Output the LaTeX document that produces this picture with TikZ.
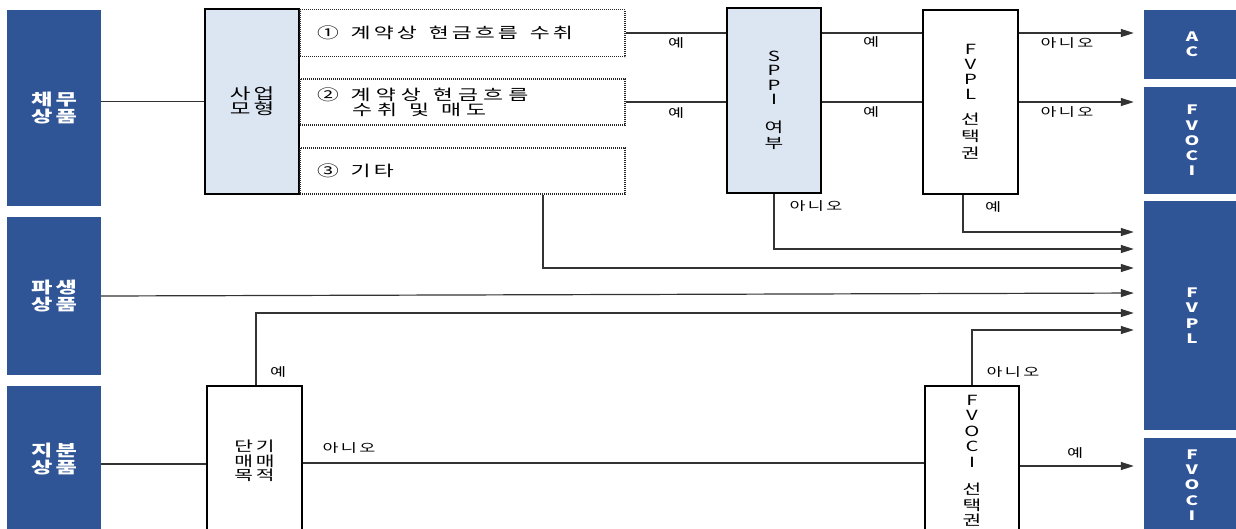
\documentclass[tikz,border=0pt]{standalone}
\usepackage{fontspec}
\setmainfont{Noto Sans CJK KR}[FakeStretch=1.45,LetterSpace=20]
\newcommand{\gap}{\hspace{7pt}}
\usetikzlibrary{arrows.meta,positioning}
\definecolor{ifrsblue}{HTML}{2F5597}
\definecolor{ifrspale}{HTML}{DCE6F2}
\definecolor{flowgray}{HTML}{333333}
\tikzset{
    every node/.style={inner sep=0pt},
    wh/.style 2 args={minimum width=#1pt,minimum height=#2pt},
    catbox/.style={rectangle,fill=ifrsblue,text=white,align=center,font=\fontsize{16}{17}\selectfont\bfseries},
    resbox/.style={rectangle,fill=ifrsblue,text=white,align=center,font=\fontsize{13}{15.3}\selectfont\bfseries},
    modelbox/.style={rectangle,draw=black,line width=1.8pt,fill=ifrspale,align=center},
    testbox/.style={rectangle,draw=black,line width=1.8pt,fill=white,align=center},
    dotbox/.style={rectangle,draw=black!85,line width=1.1pt,dash pattern=on 1pt off 1pt,inner xsep=17pt,text width=291pt,align=left,font=\fontsize{15}{15}\selectfont},
    yn/.style={font=\fontsize{12}{12}\selectfont},
    flow/.style={draw=flowgray,line width=1.2pt},
    toarrow/.style={flow,-{Triangle[length=13pt,width=8pt]},shorten >=10pt}
}
\begin{document}
\begin{tikzpicture}[x=1pt,y=-1pt]
\useasboundingbox (0,0) rectangle (1236,528);
\clip (0,0) rectangle (1236,528);
\node[catbox,wh={94}{196}] (debt) at (54,108) {채무\\상품};
\node[catbox,wh={94}{158}] (deriv) at (54,296) {파생\\상품};
\node[catbox,wh={94}{146}] (equity) at (54,459) {지분\\상품};
\node[resbox,wh={96}{69}] (ac) at (1192,44.5) {A\\C};
\node[resbox,wh={96}{107}] (fvoci) at (1192,140.5) {F\\V\\O\\C\\I};
\node[resbox,wh={96}{229}] (fvpl) at (1192,315.5) {F\\V\\P\\L};
\node[resbox,wh={96}{94}] (fvocieq) at (1192,485) {F\\V\\O\\C\\I};
\node[modelbox,wh={94}{185},font=\fontsize{15.5}{15}\selectfont] (model) at (252,101.5) {사업\\모형};
\node[dotbox,wh={325}{47}] (collect) at (462.5,33) {① \gap{}계약상 \gap{}현금흐름 \gap{}수취};
\node[dotbox,wh={325}{46},font=\fontsize{15}{15}\selectfont\addfontfeatures{LetterSpace=34}] (collectsell) at (462.5,102) {② \gap{}계약상 \gap{}현금흐름\\\hspace*{35pt}수취 \gap{}및 \gap{}매도};
\node[dotbox,wh={325}{46}] (other) at (462.5,171) {③ \gap{}기타};
\node[modelbox,wh={94}{185},font=\fontsize{14}{14.5}\selectfont] (sppi) at (774,100.5) {S\\P\\P\\I\\[13pt]여\\[2pt]부};
\node[testbox,wh={95}{184},font=\fontsize{14}{15}\selectfont] (fvplopt) at (970.5,102) {F\\V\\P\\L\\[10pt]선\\[2pt]택\\[2pt]권};
\node[testbox,wh={95}{150},font=\fontsize{14}{14.5}\selectfont] (trading) at (254.5,461) {단기\\매매\\목적};
\node[testbox,wh={94}{150},font=\fontsize{14}{15.5}\selectfont] (fvociopt) at (972,461) {F\\V\\O\\C\\I\\[12pt]선\\택\\권};
\draw[flow] (debt.east |- model.west) -- (model.west);
\draw[flow] (collect.east) -- (sppi.west |- collect.east);
\draw[flow] (collectsell.east) -- (sppi.west |- collectsell.east);
\draw[flow] (sppi.east |- collect.east) -- (fvplopt.west |- collect.east);
\draw[flow] (sppi.east |- collectsell.east) -- (fvplopt.west |- collectsell.east);
\draw[toarrow] (fvplopt.east |- collect.east) -- (ac.west |- collect.east);
\draw[toarrow] (fvplopt.east |- collectsell.east) -- (fvoci.west |- collectsell.east);
\draw[toarrow] ([xshift=-7.5pt]fvplopt.south) |- (fvpl.west |- 0,232);
\draw[toarrow] (sppi.south) |- (fvpl.west |- 0,249);
\draw[toarrow] ([xshift=80.5pt]other.south) |- (fvpl.west |- 0,268);
\draw[toarrow] (deriv.east) -- (fvpl.west |- 0,293);
\draw[toarrow] ([xshift=1.5pt]trading.north) |- (fvpl.west |- 0,313);
\draw[flow] (equity.east |- 0,464) -- (trading.west |- 0,464);
\draw[flow] (trading.east |- 0,463) -- (fvociopt.west |- 0,463);
\draw[toarrow] (fvociopt.north) |- (fvpl.west |- 0,330);
\draw[toarrow] (fvociopt.east |- 0,466) -- (fvocieq.west |- 0,466);
\node[yn] (yes1) at (676,43) {예};
\node[yn] (yes2) at (676,113) {예};
\node[yn] (yes3) at (871,42) {예};
\node[yn] (yes4) at (871,112) {예};
\node[yn] (no1) at (1067,43) {아니오};
\node[yn] (no2) at (1067,112) {아니오};
\node[yn] (no3) at (816,206) {아니오};
\node[yn] (yes5) at (993,207) {예};
\node[yn] (yes6) at (278,372) {예};
\node[yn] (no4) at (349,448) {아니오};
\node[yn] (no5) at (1013,372) {아니오};
\node[yn] (yes7) at (1075,453) {예};
\end{tikzpicture}
\end{document}
